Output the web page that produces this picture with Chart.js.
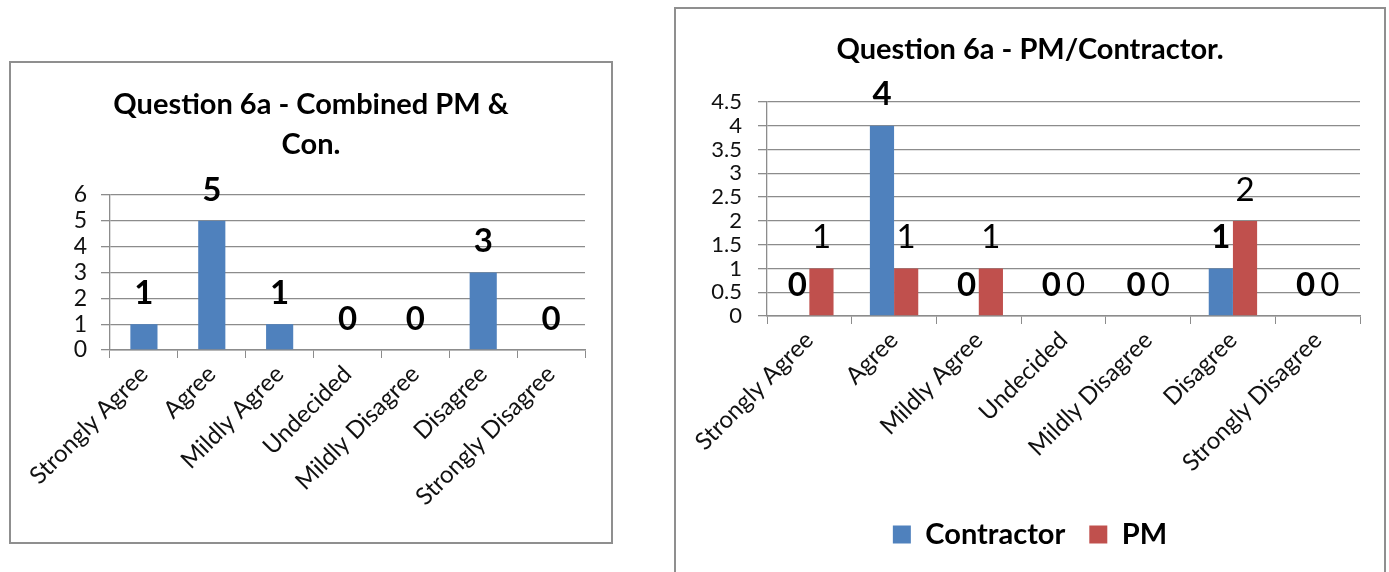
<!DOCTYPE html>
<html>
<head>
<meta charset="utf-8">
<script src="https://cdn.jsdelivr.net/npm/chart.js@4"></script>
<style>
  html, body { margin: 0; padding: 0; background: #fff; }
  body { width: 1389px; height: 572px; position: relative; overflow: hidden; }
  canvas { position: absolute; }
  .frame { position: absolute; border: 2px solid #8f8f8f; box-sizing: border-box; pointer-events: none; }
</style>
</head>
<body>
<div class="frame" style="left:9px;top:61px;width:604px;height:483px;"></div>
<div class="frame" style="left:674px;top:7px;width:712px;height:580px;"></div>
<canvas id="combined" width="602" height="481" style="left:10px;top:62px;"></canvas>
<canvas id="split" width="710" height="564" style="left:675px;top:8px;"></canvas>
<script>
// Survey answers for question 6a
const categories = ['Strongly Agree', 'Agree', 'Mildly Agree', 'Undecided', 'Mildly Disagree', 'Disagree', 'Strongly Disagree'];
const combinedCounts = [1, 5, 1, 0, 0, 3, 0];
const contractorCounts = [0, 4, 0, 0, 0, 1, 0];
const pmCounts = [1, 1, 1, 0, 0, 2, 0];

const combinedTitle = ['Question 6a - Combined PM &', 'Con.'];
const splitTitle = 'Question 6a - PM/Contractor.';
const combinedMax = 6, combinedStep = 1;
const splitMax = 4.5, splitStep = 0.5;

const BLUE = '#4F81BD';
const RED = '#C0504D';
const GRID = '#8c8c8c';
const FONT = 'Lato';

// Writes each bar's value above it
const valueLabels = {
  id: 'valueLabels',
  afterDatasetsDraw(chart) {
    const ctx = chart.ctx;
    ctx.save();
    ctx.textAlign = 'center';
    ctx.textBaseline = 'middle';
    ctx.fillStyle = '#000';
    chart.data.datasets.forEach((ds, i) => {
      const meta = chart.getDatasetMeta(i);
      ctx.font = (ds.labelWeight || 'bold') + ' 33px ' + FONT;
      meta.data.forEach((bar, j) => {
        ctx.fillText(String(ds.data[j]), bar.x, bar.y - 31);
      });
    });
    ctx.restore();
  }
};

function xScale(height) {
  return {
    offset: true,
    grid: { display: true, drawOnChartArea: false, drawTicks: true, tickLength: 8, color: GRID, lineWidth: 1 },
    border: { display: true, color: GRID, width: 1.5 },
    ticks: { color: '#111', font: { family: FONT, size: 24 }, maxRotation: 45, minRotation: 45, padding: 2, autoSkip: false },
    afterFit: s => { s.height = height; }
  };
}

function yScale(max, step, width, pad, size) {
  return {
    min: 0, max: max,
    grid: { color: GRID, lineWidth: 1.3, tickLength: 9, drawTicks: true },
    border: { display: true, color: GRID, width: 1.3 },
    ticks: { stepSize: step, autoSkip: false, color: '#111', font: { family: FONT, size: size }, padding: pad, callback: v => String(v) },
    afterFit: s => { s.width = width; }
  };
}

new Chart(document.getElementById('combined'), {
  type: 'bar',
  data: {
    labels: categories,
    datasets: [{
      label: 'Combined',
      data: combinedCounts,
      backgroundColor: BLUE,
      categoryPercentage: 0.4,
      barPercentage: 1,
      labelWeight: 'bold'
    }]
  },
  options: {
    responsive: false,
    animation: false,
    layout: { padding: { left: 27, right: 27, top: 0, bottom: 0 } },
    plugins: {
      legend: { display: false },
      tooltip: { enabled: false },
      title: {
        display: true,
        text: combinedTitle,
        color: '#000',
        font: { family: FONT, size: 29, weight: 'bold', lineHeight: 1.38 },
        padding: { top: 23, bottom: 30 }
      }
    },
    scales: {
      x: xScale(193),
      y: yScale(combinedMax, combinedStep, 73, 14, 23)
    }
  },
  plugins: [valueLabels]
});

new Chart(document.getElementById('split'), {
  type: 'bar',
  data: {
    labels: categories,
    datasets: [{
      label: 'Contractor',
      data: contractorCounts,
      backgroundColor: BLUE,
      categoryPercentage: 0.571,
      barPercentage: 1,
      labelWeight: 'bold'
    }, {
      label: 'PM',
      data: pmCounts,
      backgroundColor: RED,
      categoryPercentage: 0.571,
      barPercentage: 1,
      labelWeight: 'normal'
    }]
  },
  options: {
    responsive: false,
    animation: false,
    layout: { padding: { left: 25, right: 25, top: 0, bottom: 13 } },
    plugins: {
      tooltip: { enabled: false },
      title: {
        display: true,
        text: splitTitle,
        color: '#000',
        font: { family: FONT, size: 29, weight: 'bold', lineHeight: 1.38 },
        padding: { top: 22, bottom: 32 }
      },
      legend: {
        position: 'bottom',
        labels: {
          color: '#000',
          boxWidth: 18,
          boxHeight: 18,
          padding: 24,
          font: { family: FONT, size: 29, weight: 'bold' }
        }
      }
    },
    scales: {
      x: xScale(180),
      y: yScale(splitMax, splitStep, 67, 16, 22)
    }
  },
  plugins: [valueLabels]
});
</script>
</body>
</html>
